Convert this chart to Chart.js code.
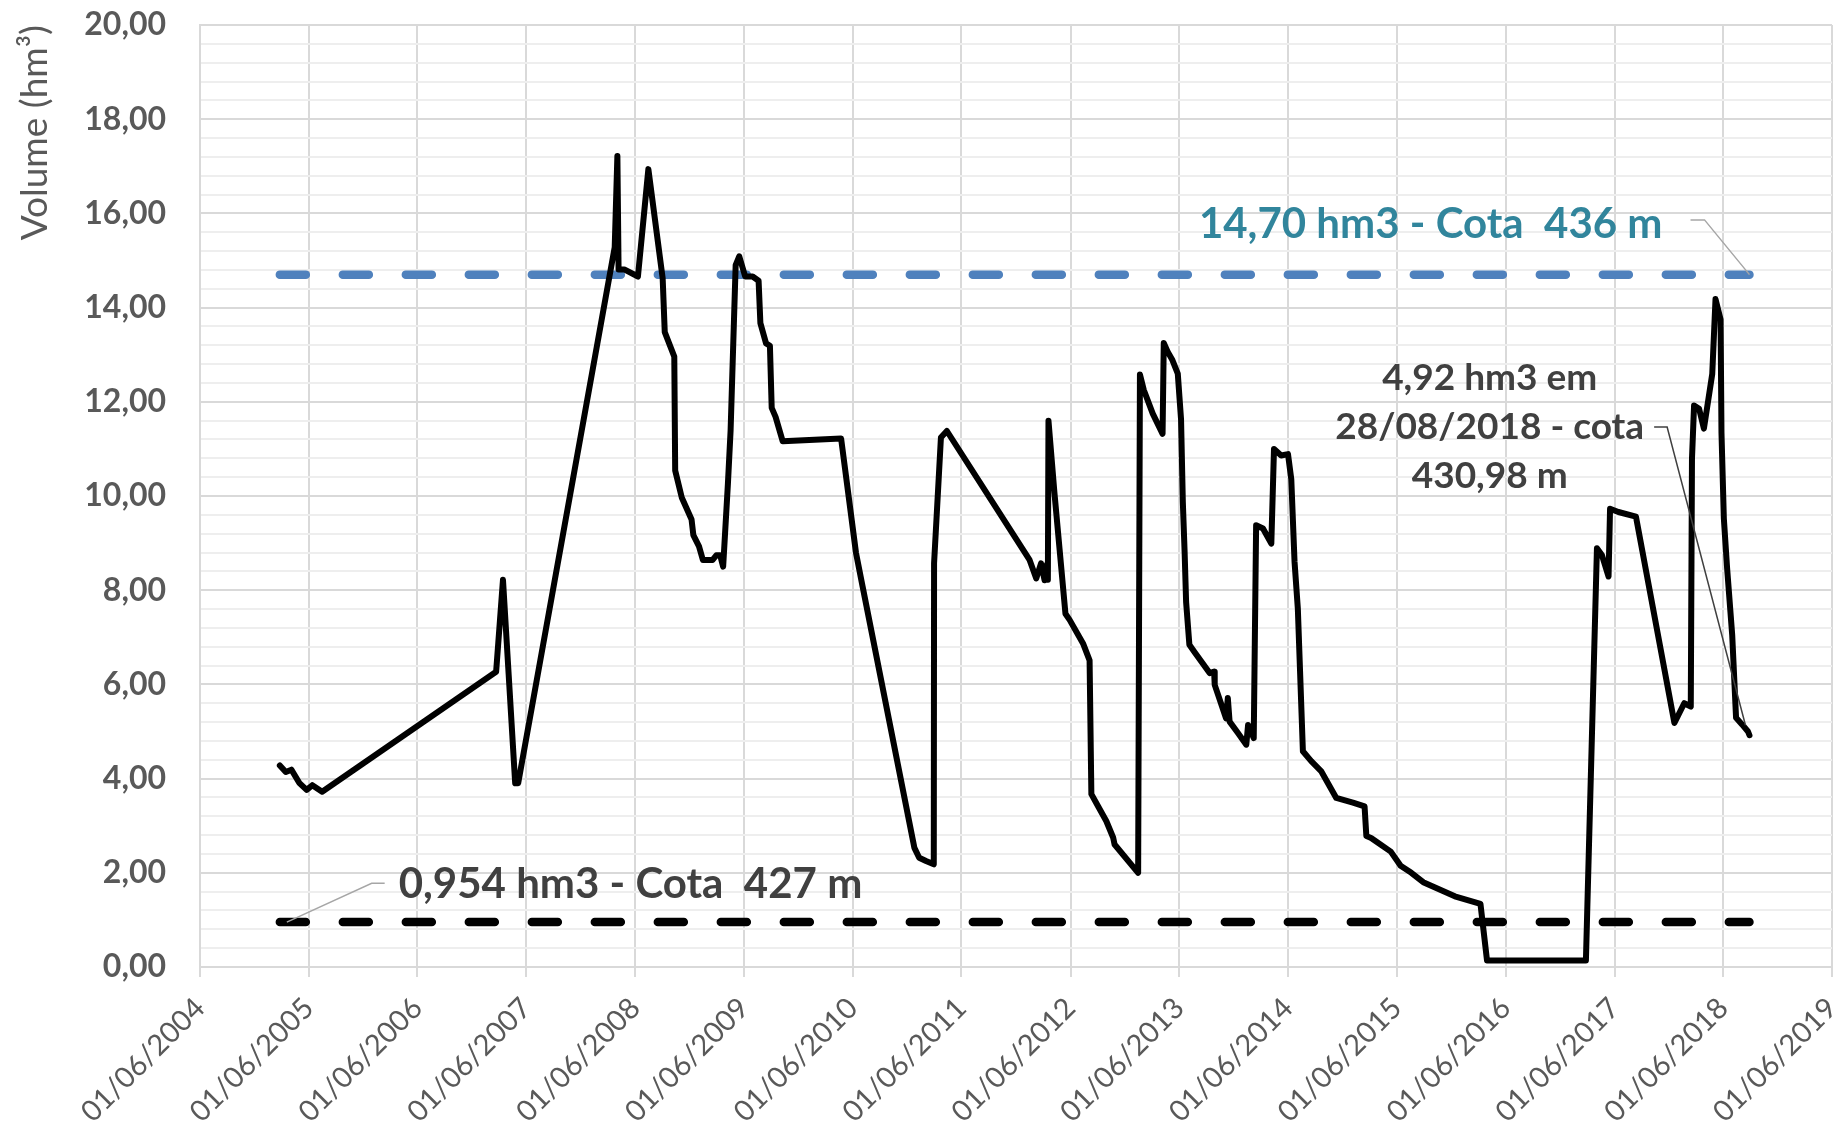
<!DOCTYPE html>
<html lang="pt-BR">
<head>
<meta charset="utf-8">
<title>Volume armazenado</title>
<script src="https://cdn.jsdelivr.net/npm/chart.js@4.4.1/dist/chart.umd.min.js"></script>
<style>
  html, body { margin: 0; padding: 0; background: #fff; }
  #grafico { display: block; }
</style>
</head>
<body>
<canvas id="grafico" width="1841" height="1124"></canvas>
<script>
var datas = [
    '24/02/2005','16/03/2005','04/04/2005','30/04/2005','25/05/2005','13/06/2005','16/07/2005',
    '20/02/2007','15/03/2007','25/04/2007','05/05/2007',
    '24/03/2008','02/04/2008','06/04/2008','25/04/2008','10/06/2008','15/07/2008','01/09/2008','08/09/2008','10/10/2008','13/10/2008','04/11/2008','07/12/2008','13/12/2008',
    '01/01/2009','14/01/2009','15/02/2009','28/02/2009','13/03/2009','23/03/2009','08/04/2009','17/04/2009','04/05/2009','16/05/2009','05/06/2009','30/06/2009','20/07/2009','26/07/2009','14/08/2009','27/08/2009','02/09/2009','15/09/2009','09/10/2009',
    '23/04/2010','12/06/2010','04/07/2010','25/12/2010',
    '10/01/2011','02/02/2011','28/02/2011','01/03/2011','24/03/2011','13/04/2011',
    '15/01/2012','07/02/2012','23/02/2012','06/03/2012','14/03/2012','17/03/2012','19/03/2012','08/04/2012','15/05/2012','29/05/2012','13/07/2012','04/08/2012','10/08/2012','01/09/2012','29/09/2012','22/10/2012','27/10/2012',
    '14/01/2013','20/01/2013','02/02/2013','04/03/2013','06/04/2013','10/04/2013','24/04/2013','08/05/2013','27/05/2013','07/06/2013','13/06/2013','19/06/2013','24/06/2013','05/07/2013','22/07/2013','11/09/2013','26/09/2013','28/09/2013','05/11/2013','11/11/2013','17/11/2013','15/12/2013',
    '12/01/2014','18/01/2014','06/02/2014','14/02/2014','09/03/2014','06/04/2014','15/04/2014','09/05/2014','01/06/2014','12/06/2014','23/06/2014','04/07/2014','21/07/2014','18/08/2014','20/09/2014','10/11/2014',
    '05/01/2015','13/02/2015','19/02/2015','07/03/2015','12/05/2015','14/06/2015','20/07/2015','29/08/2015','13/12/2015',
    '08/03/2016','30/03/2016',
    '25/02/2017','03/04/2017','20/04/2017','12/05/2017','17/05/2017','14/06/2017','12/08/2017','19/12/2017',
    '21/01/2018','12/02/2018','16/02/2018','23/02/2018','12/03/2018','28/03/2018','25/04/2018','06/05/2018','23/05/2018','26/05/2018','03/06/2018','14/06/2018','01/07/2018','14/07/2018','03/08/2018','23/08/2018','28/08/2018'
];

var volumes = [
    4.28, 4.14, 4.19, 3.91, 3.76, 3.86, 3.72,
    6.27, 8.22, 3.90, 3.90,
    15.28, 17.22, 14.81, 14.81, 14.66, 16.94, 14.62, 13.48, 12.96, 10.54, 9.97, 9.50, 9.17,
    8.93, 8.64, 8.64, 8.74, 8.74, 8.50, 10.26, 11.39, 14.90, 15.09, 14.66, 14.66, 14.57, 13.67, 13.24, 13.19, 11.87, 11.68, 11.16,
    11.22, 8.79, 8.08, 2.53,
    2.32, 2.25, 2.18, 8.57, 11.24, 11.38,
    8.65, 8.25, 8.57, 8.21, 8.55, 8.22, 11.60, 10.07, 7.50, 7.37, 6.87, 6.51, 3.67, 3.42, 3.10, 2.75, 2.60,
    2.00, 12.58, 12.25, 11.75, 11.32, 13.25, 13.05, 12.90, 12.60, 11.63, 9.87, 8.81, 7.75, 6.84, 6.69, 6.24, 6.27, 5.99, 5.28, 5.71, 5.21, 4.97,
    4.72, 5.14, 4.86, 9.38, 9.31, 8.99, 11.00, 10.86, 10.89, 10.36, 8.60, 7.61, 4.58, 4.37, 4.16, 3.59,
    3.49, 3.41, 2.78, 2.74, 2.45, 2.15, 2.00, 1.80, 1.50,
    1.34, 0.14,
    0.14, 8.89, 8.74, 8.29, 9.73, 9.66, 9.56, 5.18,
    5.60, 5.53, 10.79, 11.92, 11.85, 11.43, 12.59, 14.18, 13.75, 11.35, 9.52, 8.46, 7.05, 5.29, 5.15, 5.00, 4.92
];

// volumes de referência (hm³)
var volumeMaximo = 14.70;
var volumeMinimo = 0.954;

// marcas do eixo x: 01/06 de cada ano
var anosEixo = [2004, 2005, 2006, 2007, 2008, 2009, 2010, 2011, 2012, 2013, 2014, 2015, 2016, 2017, 2018, 2019];

var rotuloMaximo = '14,70 hm3 - Cota  436 m';
var rotuloMinimo = '0,954 hm3 - Cota  427 m';
var rotuloAtual = ['4,92 hm3 em', '28/08/2018 - cota', '430,98 m'];

var paraData = function(texto) {
    var p = texto.split('/');
    return Date.UTC(+p[2], +p[1] - 1, +p[0]);
};

var doisDigitos = function(n) {
    return (n < 10 ? '0' : '') + n;
};

var ehMaior = function(v) {
    return Math.abs(v / 2 - Math.round(v / 2)) < 1e-6;
};

var inicio = paraData(datas[0]);
var fim = paraData(datas[datas.length - 1]);

var pontos = [];
for (var i = 0; i < datas.length; i++) {
    pontos.push({x: paraData(datas[i]), y: volumes[i]});
}

var linhaGuia = function(ctx, lista, cor) {
    ctx.save();
    ctx.strokeStyle = cor;
    ctx.lineWidth = 1.5;
    ctx.beginPath();
    ctx.moveTo(lista[0][0], lista[0][1]);
    for (var k = 1; k < lista.length; k++) {
        ctx.lineTo(lista[k][0], lista[k][1]);
    }
    ctx.stroke();
    ctx.restore();
};

var pluginRotulos = {
    id: 'rotulos',
    afterDatasetsDraw: function(chart) {
        var ctx = chart.ctx;
        var ex = chart.scales.x;
        var ey = chart.scales.y;
        var w, cx, by;

        ctx.save();
        ctx.textAlign = 'center';
        ctx.textBaseline = 'alphabetic';

        // volume máximo
        ctx.font = 'bold 42px Lato';
        ctx.fillStyle = '#31859c';
        cx = ex.getPixelForValue(paraData('23/09/2015'));
        by = ey.getPixelForValue(15.48);
        ctx.fillText(rotuloMaximo, cx, by);
        w = ctx.measureText(rotuloMaximo).width;
        linhaGuia(ctx, [[cx + w / 2 + 28, by - 18], [cx + w / 2 + 42, by - 18],
            [ex.getPixelForValue(fim), ey.getPixelForValue(volumeMaximo)]], '#a6a6a6');

        // volume mínimo
        ctx.fillStyle = '#404040';
        cx = ex.getPixelForValue(paraData('16/05/2008'));
        by = ey.getPixelForValue(1.46);
        ctx.fillText(rotuloMinimo, cx, by);
        w = ctx.measureText(rotuloMinimo).width;
        linhaGuia(ctx, [[cx - w / 2 - 14, by - 15], [cx - w / 2 - 27, by - 15],
            [ex.getPixelForValue(inicio) + 7, ey.getPixelForValue(volumeMinimo)]], '#a6a6a6');

        // situação atual
        ctx.font = 'bold 37px Lato';
        cx = ex.getPixelForValue(paraData('08/04/2016'));
        by = ey.getPixelForValue(11.21);
        ctx.fillText(rotuloAtual[0], cx, by - 49);
        ctx.fillText(rotuloAtual[1], cx, by);
        ctx.fillText(rotuloAtual[2], cx, by + 49);
        w = ctx.measureText(rotuloAtual[1]).width;
        linhaGuia(ctx, [[cx + w / 2 + 10, by - 12], [cx + w / 2 + 23, by - 12],
            [ex.getPixelForValue(fim) - 4, ey.getPixelForValue(volumes[volumes.length - 1]) - 10]], '#404040');

        ctx.restore();
    }
};

Chart.defaults.font.family = 'Lato';

var grafico = new Chart(document.getElementById('grafico'), {
    type: 'line',
    data: {
        datasets: [{
            label: 'Volume',
            data: pontos,
            borderColor: '#000000',
            borderWidth: 6,
            borderJoinStyle: 'round',
            borderCapStyle: 'round',
            pointRadius: 0,
            tension: 0,
            order: 0
        }, {
            label: 'Cota 436 m',
            data: [{x: inicio, y: volumeMaximo}, {x: fim, y: volumeMaximo}],
            borderColor: '#4f81bd',
            borderWidth: 8.5,
            borderDash: [26, 37],
            borderCapStyle: 'round',
            pointRadius: 0,
            order: 1
        }, {
            label: 'Cota 427 m',
            data: [{x: inicio, y: volumeMinimo}, {x: fim, y: volumeMinimo}],
            borderColor: '#000000',
            borderWidth: 8.5,
            borderDash: [26, 37],
            borderCapStyle: 'round',
            pointRadius: 0,
            order: 2
        }]
    },
    options: {
        responsive: false,
        animation: false,
        devicePixelRatio: 1,
        layout: {
            padding: {left: 0, right: 9, top: 25, bottom: 0}
        },
        plugins: {
            legend: {display: false},
            tooltip: {enabled: false}
        },
        scales: {
            x: {
                type: 'linear',
                min: paraData('01/06/2004'),
                max: paraData('01/06/2019'),
                afterBuildTicks: function(eixo) {
                    eixo.ticks = anosEixo.map(function(a) {
                        return {value: Date.UTC(a, 5, 1)};
                    });
                },
                afterFit: function(eixo) {
                    eixo.height = 157;
                    eixo.paddingLeft = 0;
                    eixo.paddingRight = 0;
                },
                ticks: {
                    autoSkip: false,
                    minRotation: 45,
                    maxRotation: 45,
                    padding: 14,
                    color: '#595959',
                    font: {size: 29},
                    callback: function(v) {
                        var d = new Date(v);
                        return doisDigitos(d.getUTCDate()) + '/' + doisDigitos(d.getUTCMonth() + 1) + '/' + d.getUTCFullYear();
                    }
                },
                grid: {
                    color: '#d9d9d9',
                    lineWidth: 2,
                    drawTicks: true,
                    tickLength: 10
                },
                border: {color: '#d9d9d9', width: 2}
            },
            y: {
                type: 'linear',
                min: 0,
                max: 20,
                afterFit: function(eixo) {
                    eixo.width = 200;
                    eixo.paddingTop = 0;
                    eixo.paddingBottom = 0;
                },
                ticks: {
                    stepSize: 0.4,
                    autoSkip: false,
                    padding: 34,
                    color: '#595959',
                    font: {size: 32, weight: 'bold'},
                    callback: function(v) {
                        return ehMaior(v) ? v.toFixed(2).replace('.', ',') : '';
                    }
                },
                grid: {
                    drawTicks: false,
                    lineWidth: 2,
                    color: function(c) {
                        return ehMaior(c.tick.value) ? '#d9d9d9' : '#eeeeee';
                    }
                },
                border: {color: '#d9d9d9', width: 2},
                title: {
                    display: true,
                    text: 'Volume (hm³)',
                    align: 'end',
                    color: '#595959',
                    font: {size: 37},
                    padding: {top: 13, bottom: 0}
                }
            }
        }
    },
    plugins: [pluginRotulos]
});
</script>
</body>
</html>
